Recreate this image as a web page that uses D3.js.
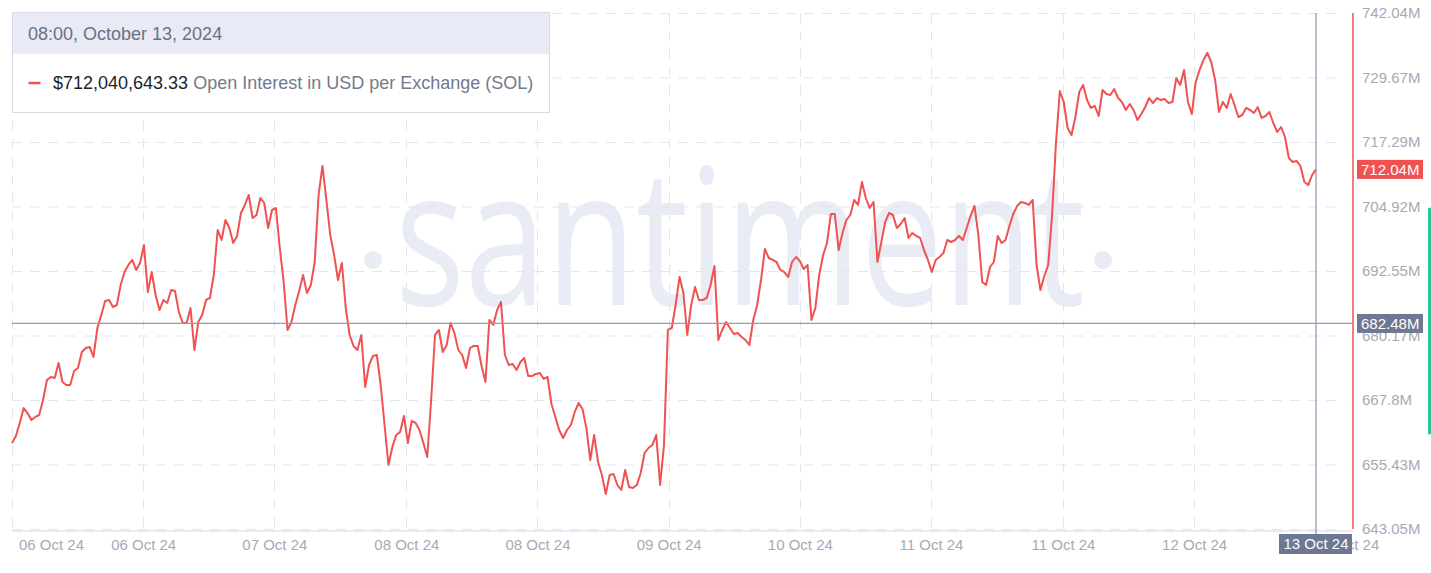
<!DOCTYPE html>
<html><head><meta charset="utf-8">
<script src="https://cdn.jsdelivr.net/npm/d3@7"></script>
<style>
html,body{margin:0;padding:0;background:#fff;overflow:hidden;}
svg{display:block;font-family:"Liberation Sans",Arial,sans-serif;}
</style></head><body>
<svg id="chart" width="1431" height="573"></svg>
<script>
// ---------- data (30-minute points, values in millions USD) ----------
const startTime = "2024-10-06T08:00";
const stepMinutes = 30;
const openInterestM = [
659.55, 660.89, 663.39, 666.26, 665.30, 663.96, 664.54, 664.92, 667.80, 671.63,
672.21, 672.02, 674.90, 671.25, 670.68, 670.68, 673.36, 673.94, 677.01, 677.77,
677.97, 676.05, 681.61, 684.10, 686.79, 686.98, 685.64, 686.02, 689.86, 692.35,
693.70, 694.66, 692.74, 694.08, 697.53, 688.52, 692.35, 687.94, 685.06, 686.98,
686.41, 688.90, 688.71, 684.68, 682.57, 682.57, 685.45, 677.39, 682.76, 684.10,
686.98, 687.37, 691.78, 700.41, 698.49, 702.33, 700.79, 697.92, 699.26, 703.67,
705.21, 707.13, 702.71, 703.29, 706.55, 705.59, 700.79, 704.25, 704.63, 696.96,
690.44, 681.23, 682.76, 686.02, 688.71, 691.78, 688.33, 689.86, 694.27, 707.13,
712.69, 706.17, 699.45, 695.62, 690.82, 694.08, 685.45, 680.27, 678.16, 677.39,
680.27, 670.29, 674.51, 676.24, 676.43, 670.68, 663.00, 655.33, 658.78, 661.08,
661.66, 664.73, 659.55, 663.77, 663.39, 662.04, 659.55, 656.86, 667.80, 680.27,
681.23, 677.01, 678.35, 682.57, 680.65, 677.39, 676.43, 673.94, 677.77, 678.16,
678.16, 674.32, 671.25, 683.15, 682.19, 685.06, 686.60, 676.43, 674.51, 674.70,
673.55, 675.09, 675.86, 672.40, 672.40, 672.79, 672.98, 671.83, 672.21, 667.03,
664.54, 662.04, 660.51, 662.04, 663.00, 665.50, 667.22, 666.07, 662.43, 656.29,
661.08, 655.90, 653.41, 649.77, 653.41, 653.60, 651.49, 650.53, 654.37, 651.11,
650.92, 651.49, 653.79, 657.63, 658.59, 659.17, 661.08, 651.49, 659.17, 681.23,
681.61, 686.02, 691.39, 688.33, 680.27, 686.02, 689.48, 686.98, 686.98, 687.37,
689.86, 693.51, 679.31, 681.23, 682.76, 681.61, 680.46, 680.65, 679.88, 679.31,
678.35, 683.15, 686.02, 690.82, 696.77, 695.04, 694.66, 694.27, 692.74, 692.35,
691.39, 694.27, 695.23, 694.46, 692.93, 693.70, 683.15, 685.45, 691.78, 695.62,
697.92, 703.48, 703.48, 696.57, 699.84, 702.33, 703.29, 706.17, 705.21, 709.62,
706.55, 704.63, 705.78, 694.27, 698.11, 701.95, 703.67, 703.29, 700.79, 701.56,
702.71, 698.88, 699.84, 699.26, 698.88, 696.57, 694.66, 692.35, 694.66, 695.23,
696.00, 698.49, 698.11, 698.49, 699.26, 698.49, 700.79, 703.10, 705.02, 699.45,
690.44, 689.86, 693.31, 694.27, 699.26, 697.92, 698.49, 701.18, 703.48, 705.02,
705.78, 705.59, 705.21, 706.17, 693.70, 688.90, 691.59, 693.70, 703.29, 717.10,
727.08, 724.97, 719.98, 718.64, 722.09, 726.89, 728.23, 725.35, 723.82, 724.20,
722.28, 727.27, 726.50, 726.31, 727.46, 725.73, 724.97, 723.43, 724.58, 723.43,
721.51, 722.66, 724.01, 725.73, 724.77, 725.73, 725.35, 725.54, 724.77, 724.97,
729.57, 728.23, 731.11, 724.97, 722.66, 728.80, 731.11, 733.02, 734.37, 732.64,
729.19, 723.05, 724.97, 723.82, 726.50, 724.39, 722.09, 722.47, 723.82, 723.43,
722.86, 724.01, 721.90, 722.28, 723.05, 720.94, 719.21, 720.17, 718.25, 714.22,
713.46, 713.65, 712.69, 709.62, 709.04, 710.96, 712.04
];
const yTickValues = [643.05, 655.43, 667.8, 680.17, 692.55, 704.92, 717.29, 729.67, 742.04];
const xTickHours  = [16.9, 33.8, 50.8, 67.7, 84.6, 101.5, 118.4, 135.4, 152.3, 171.9];
const xTickLabels = ["06 Oct 24","07 Oct 24","08 Oct 24","08 Oct 24","09 Oct 24","10 Oct 24","11 Oct 24","11 Oct 24","12 Oct 24","13 Oct 24"];
const firstTickLabel = "06 Oct 24";
const hoverLabel = "08:00, October 13, 2024";
const hoverValueUSD = 712040643.33;
const hoverAxisLabel = "13 Oct 24";
const crossValueM = 682.48;
const seriesName = "Open Interest in USD per Exchange (SOL)";
const watermark = "santiment";

// ---------- setup ----------
const svg = d3.select("#chart");
const plot = {left:12, right:1316, top:13, bottom:529, axis:1353};
const parse = d3.timeParse("%Y-%m-%dT%H:%M");
const t0 = parse(startTime);
const data = openInterestM.map((v,i)=>({t:d3.timeMinute.offset(t0,i*stepMinutes), v}));
const x = d3.scaleTime().domain(d3.extent(data,d=>d.t)).range([plot.left, plot.right]);
const y = d3.scaleLinear().domain([yTickValues[0], yTickValues[yTickValues.length-1]]).range([plot.bottom, plot.top]);
const fmtM = v => `${+v.toFixed(2)}M`;
const tickDates = xTickHours.map(h => new Date(t0.getTime() + h*3600e3));
const lastT = data[data.length-1].t;

const RED = "#f05252", GRID = "#e4e6ee", TXT = "#a6aab5", SLATE = "#6f7892", CROSS = "#959bb4";

// watermark
const wm = svg.append("g").attr("fill","#e9ebf5");
wm.append("text").attr("x",395).attr("y",305).attr("font-size",190)
  .attr("font-family","'Open Sans','Liberation Sans',sans-serif")
  .attr("textLength",690).attr("lengthAdjust","spacingAndGlyphs").text(watermark);
wm.append("circle").attr("cx",373).attr("cy",260).attr("r",9);
wm.append("circle").attr("cx",1103).attr("cy",260).attr("r",9);

// grid
const grid = svg.append("g").attr("stroke",GRID).attr("stroke-width",1).attr("stroke-dasharray","10,8");
grid.selectAll(".gh").data(yTickValues).join("line")
  .attr("x1",plot.left).attr("x2",1345).attr("y1",d=>y(d)+0.5).attr("y2",d=>y(d)+0.5);
grid.selectAll(".gv").data([t0, ...tickDates.slice(0,-1)]).join("line")
  .attr("x1",d=>Math.round(x(d))+0.5).attr("x2",d=>Math.round(x(d))+0.5)
  .attr("y1",plot.top).attr("y2",plot.bottom);

// bottom axis
const xAxis = svg.append("g").attr("transform",`translate(0,${plot.bottom+2})`)
  .call(d3.axisBottom(x).tickValues(tickDates).tickFormat((d,i)=>xTickLabels[i]).tickSize(0).tickPadding(8));
xAxis.select(".domain").remove();
xAxis.append("line").attr("x1",plot.left).attr("x2",plot.axis).attr("y1",0).attr("y2",0).attr("stroke","#e3e5ec").attr("stroke-width",1.5);
xAxis.selectAll("text").attr("fill",TXT).attr("font-size",15).attr("font-family","'Liberation Sans',Arial,sans-serif");
xAxis.append("text").attr("x",x(t0)+7).attr("y",8).attr("dy","0.71em").attr("fill",TXT)
  .attr("font-size",15).attr("text-anchor","start").text(firstTickLabel);

// right axis
const yAxis = svg.append("g").attr("transform",`translate(${plot.axis},0)`)
  .call(d3.axisRight(y).tickValues(yTickValues).tickFormat(fmtM).tickSize(0).tickPadding(9));
yAxis.select(".domain").remove();
yAxis.selectAll("text").attr("fill",TXT).attr("font-size",15).attr("font-family","'Liberation Sans',Arial,sans-serif");
svg.append("line").attr("x1",plot.axis).attr("x2",plot.axis).attr("y1",plot.top).attr("y2",plot.bottom)
  .attr("stroke","#ef7f7a").attr("stroke-width",2);

// series
svg.append("path").datum(data)
  .attr("d", d3.line().x(d=>x(d.t)).y(d=>y(d.v)))
  .attr("fill","none").attr("stroke",RED).attr("stroke-width",2).attr("stroke-linejoin","round");

// crosshair
svg.append("line").attr("x1",x(lastT)).attr("x2",x(lastT)).attr("y1",plot.top).attr("y2",plot.bottom+5)
  .attr("stroke",CROSS).attr("stroke-width",1.3);
svg.append("line").attr("x1",plot.left).attr("x2",plot.axis).attr("y1",y(crossValueM)).attr("y2",y(crossValueM))
  .attr("stroke",CROSS).attr("stroke-width",1.3);

function yBadge(v, fill){
  const g = svg.append("g").attr("transform",`translate(${plot.axis+4},${y(v)})`);
  g.append("rect").attr("x",0).attr("y",-9.5).attr("width",66).attr("height",19).attr("fill",fill);
  g.append("text").attr("x",4).attr("y",0).attr("dy","0.35em").attr("fill","#fff").attr("font-size",15).text(fmtM(v));
}
yBadge(crossValueM, SLATE);
yBadge(openInterestM[openInterestM.length-1], RED);

// x badge
const xb = svg.append("g").attr("transform",`translate(${x(lastT)},${plot.bottom+15})`);
xb.append("rect").attr("x",-37).attr("y",-10).attr("width",73).attr("height",20).attr("fill",SLATE);
xb.append("text").attr("text-anchor","middle").attr("dy","0.36em").attr("fill","#fff").attr("font-size",15).text(hoverAxisLabel);

// green side bar
svg.append("line").attr("x1",1429.5).attr("x2",1429.5).attr("y1",209).attr("y2",433)
  .attr("stroke","#27c49b").attr("stroke-width",3).attr("stroke-linecap","round");

// tooltip
const tip = svg.append("g").attr("transform","translate(12.5,12.5)");
tip.append("rect").attr("width",537).attr("height",100).attr("fill","#fff").attr("stroke","#d8dbe7");
tip.append("rect").attr("x",0.5).attr("y",0.5).attr("width",536).attr("height",41).attr("fill","#e8eaf6");
tip.append("text").attr("x",15.5).attr("y",21).attr("dy","0.35em").attr("fill","#6b7182").attr("font-size",18).text(hoverLabel);
tip.append("line").attr("x1",16).attr("x2",28).attr("y1",70.5).attr("y2",70.5).attr("stroke",RED).attr("stroke-width",2.5);
const t2 = tip.append("text").attr("x",40.5).attr("y",70.5).attr("dy","0.35em").attr("font-size",18);
t2.append("tspan").attr("fill","#1d1f2a").text(d3.format("$,.2f")(hoverValueUSD));
t2.append("tspan").attr("fill","#737a8c").text(" " + seriesName);
</script>
</body></html>
